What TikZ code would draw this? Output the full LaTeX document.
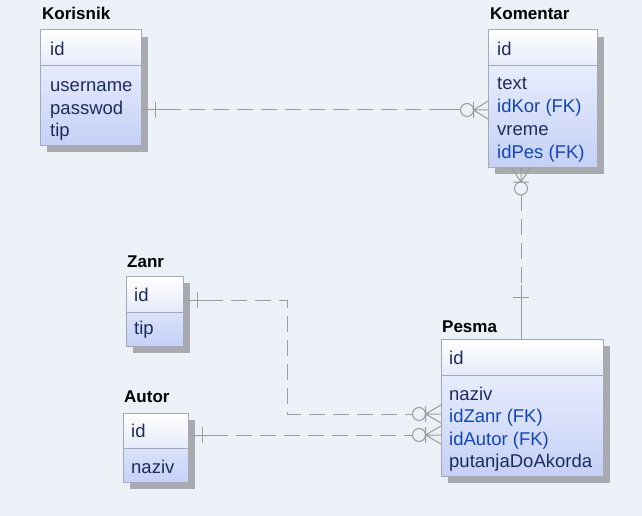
\documentclass[tikz,border=0pt]{standalone}
\usepackage{fontspec}
\setmainfont{Liberation Sans}
\definecolor{bg}{HTML}{ECF1F8}
\definecolor{shadowc}{HTML}{A9AAB0}
\definecolor{borderc}{HTML}{A4A8B8}
\definecolor{entblue}{HTML}{C4D0F6}
\definecolor{entlight}{HTML}{F4F6FE}
\definecolor{idblue}{HTML}{E6EBFA}
\definecolor{attrc}{HTML}{1E2B5E}
\definecolor{fkc}{HTML}{1446B4}
\definecolor{relc}{HTML}{9C9C9C}
\tikzset{
  entbody/.style={inner sep=0pt, outer sep=0pt, anchor=north west, top color=entlight, bottom color=entblue, draw=none},
  entid/.style={inner sep=0pt, outer sep=0pt, anchor=north west, top color=white, bottom color=idblue, draw=none},
  entline/.style={draw=borderc, line width=1pt},
  attr/.style={inner sep=0pt, anchor=base west, text=attrc, font=\fontsize{18.5}{22}\selectfont},
  fk/.style={attr, text=fkc},
  enttitle/.style={inner sep=0pt, anchor=base west, text=black, font=\bfseries\fontsize{17}{20}\selectfont},
  rel/.style={draw=relc, line width=1pt},
  reldash/.style={rel, dash pattern=on 16pt off 8pt},
}
\newcommand\myent[6]{%
  \fill[shadowc] (#2+7,#3+7) rectangle (#4+7,#5+7);
  \node[entbody, minimum width={#4-#2}, minimum height={#5-#3}] (#1) at (#2,#3) {};
  \node[entid, minimum width={#4-#2}, minimum height={#6-#3}] (#1-id) at (#2,#3) {};
  \draw[entline] (#1-id.south west) -- (#1-id.south east);
  \draw[entline] (#1.north west) rectangle (#1.south east);
}
\begin{document}
\begin{tikzpicture}[x=1pt,y=-1pt]
\useasboundingbox[fill=bg] (0,0) rectangle (642,516);

% Entities
\myent{kor}{40}{30}{141}{145}{66}
\node[enttitle] (kor-title) at (42,20) {Korisnik};
\node[attr] (kor-a0) at (50,56) {id};
\node[attr] (kor-a1) at (50,92) {username};
\node[attr] (kor-a2) at (50,114) {passwod};
\node[attr] (kor-a3) at (50,136) {tip};

\myent{kom}{488}{30}{597}{167}{66}
\node[enttitle] (kom-title) at (490,20) {Komentar};
\node[attr] (kom-a0) at (497,56) {id};
\node[attr] (kom-a1) at (497,90) {text};
\node[fk]   (kom-a2) at (497,113) {idKor (FK)};
\node[attr] (kom-a3) at (497,135.5) {vreme};
\node[fk]   (kom-a4) at (497,158) {idPes (FK)};

\myent{zan}{126}{276}{183}{346}{312}
\node[enttitle] (zan-title) at (127,267) {Zanr};
\node[attr] (zan-a0) at (134,301) {id};
\node[attr] (zan-a1) at (134,334) {tip};

\myent{aut}{123}{413}{188}{482}{448}
\node[enttitle] (aut-title) at (124,402) {Autor};
\node[attr] (aut-a0) at (131,437) {id};
\node[attr] (aut-a1) at (131,473) {naziv};

\myent{pes}{441}{339}{603}{476}{375}
\node[enttitle] (pes-title) at (442,332) {Pesma};
\node[attr] (pes-a0) at (449,364) {id};
\node[attr] (pes-a1) at (449,400) {naziv};
\node[fk]   (pes-a2) at (449,422.5) {idZanr (FK)};
\node[fk]   (pes-a3) at (449,445) {idAutor (FK)};
\node[attr] (pes-a4) at (449,467.5) {putanjaDoAkorda};

% Connection points
\coordinate (c1a) at (141,110);
\coordinate (c1b) at (460.5,110);
\coordinate (c2a) at (521,195);
\coordinate (c2b) at (521,339);
\coordinate (c3a) at (183,300);
\coordinate (c3m1) at (287,300);
\coordinate (c3m2) at (287,414);
\coordinate (c3b) at (412.5,414);
\coordinate (c4a) at (188,435);
\coordinate (c4b) at (412.5,435);

% Korisnik - Komentar
\draw[reldash] (c1a) -- (c1b);
\draw[rel] (c1a) -- (166,110);
\draw[rel] (440,110) -- (c1b);
\draw[rel] (155,102) -- (155,118);
\draw[rel] (467,110) circle[radius=6.5pt];
\draw[rel] (473.5,110) -- (488,110) (473.5,110) -- (488,101) (473.5,110) -- (488,119) (473.5,102) -- (473.5,118);

% Komentar - Pesma
\draw[reldash] (c2a) -- (c2b);
\draw[rel] (521,285) -- (c2b);
\draw[rel] (513,297) -- (529,297);
\draw[rel] (521,188.5) circle[radius=6.5pt];
\draw[rel] (521,182) -- (521,167) (521,182) -- (511,167) (521,182) -- (531,167) (513,182) -- (529,182);

% Zanr - Pesma
\draw[reldash] (c3a) -- (c3m1) -- (c3m2) -- (c3b);
\draw[rel] (c3a) -- (208,300);
\draw[rel] (197,292) -- (197,308);
\draw[rel] (419,414) circle[radius=6.5pt];
\draw[rel] (425.5,414) -- (441,414) (425.5,414) -- (441,405) (425.5,414) -- (441,423) (425.5,406) -- (425.5,422);

% Autor - Pesma
\draw[reldash] (c4a) -- (c4b);
\draw[rel] (c4a) -- (213,435);
\draw[rel] (202,427) -- (202,443);
\draw[rel] (419,435) circle[radius=6.5pt];
\draw[rel] (425.5,435) -- (441,435) (425.5,435) -- (441,426) (425.5,435) -- (441,444) (425.5,427) -- (425.5,443);
\end{tikzpicture}
\end{document}
